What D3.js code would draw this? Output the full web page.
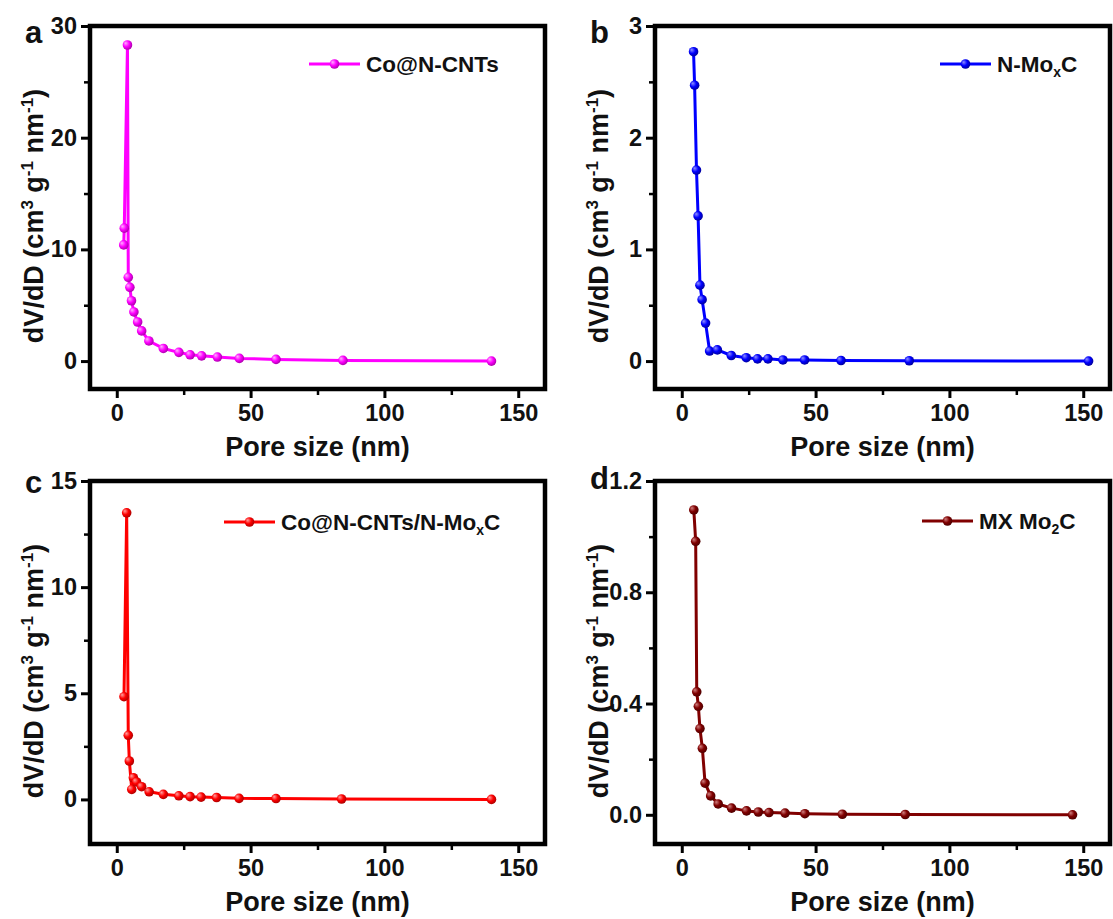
<!DOCTYPE html>
<meta http-equiv="content-type" content="text/html; charset=utf-8">
<style>
body { margin: 0; background: #fff; }
text { font-family: "Liberation Sans", Arial, sans-serif; font-weight: bold; }
</style>
<body>
<div id="chart"></div>
<script src="https://cdn.jsdelivr.net/npm/d3@7"></script>
<script>
// pore size distributions
var xTicks = [0, 50, 100, 150];
var xMinor = [25, 75, 125];

var poreA = [2.6, 2.8, 4.0, 4.3, 4.9, 5.5, 6.4, 7.8, 9.3, 12.0, 17.4, 23.2, 27.4, 31.7, 37.6, 45.8, 59.5, 84.5, 140];
var dvA   = [10.4, 11.9, 28.3, 7.5, 6.6, 5.4, 4.4, 3.5, 2.7, 1.8, 1.13, 0.78, 0.56, 0.47, 0.36, 0.24, 0.15, 0.06, 0.0];
var yTicksA = [0, 10, 20, 30];
var yMinorA = [5, 15, 25];

var poreB = [4.4, 4.8, 5.5, 6.1, 6.8, 7.6, 8.9, 10.4, 13.3, 18.5, 24.1, 28.3, 32.2, 37.8, 45.9, 59.5, 85, 152];
var dvB   = [2.77, 2.47, 1.71, 1.30, 0.68, 0.55, 0.34, 0.09, 0.10, 0.05, 0.03, 0.02, 0.02, 0.01, 0.01, 0.005, 0.003, 0.0];
var yTicksB = [0, 1, 2, 3];
var yMinorB = [0.5, 1.5, 2.5];

var poreC = [2.7, 3.7, 4.3, 4.7, 5.6, 6.2, 7.4, 9.3, 12.1, 17.4, 23.2, 27.4, 31.5, 37.3, 45.7, 59.5, 84, 140];
var dvC   = [4.84, 13.5, 3.02, 1.81, 0.47, 1.02, 0.82, 0.60, 0.36, 0.24, 0.17, 0.13, 0.11, 0.09, 0.05, 0.04, 0.02, 0.0];
var yTicksC = [0, 5, 10, 15];
var yMinorC = [2.5, 7.5, 12.5];

var poreD = [4.5, 5.2, 5.6, 6.2, 6.8, 7.7, 8.7, 10.8, 13.6, 18.6, 24.2, 28.6, 32.6, 38.6, 46, 60, 83.5, 146];
var dvD   = [1.096, 0.983, 0.442, 0.39, 0.31, 0.239, 0.114, 0.068, 0.039, 0.024, 0.014, 0.01, 0.008, 0.006, 0.004, 0.002, 0.001, 0.0];
var yTicksD = [0, 0.4, 0.8, 1.2];
var yMinorD = [0.2, 0.6, 1.0];

var W = 455, H = 363;

var panels = [
  { id: "a", left: 90, top: 26, color: "#ff00ff", hi: "#ffb0ff", lo: "#b000b0",
    pore: poreA, dv: dvA, ticks: yTicksA, minor: yMinorA, ydom: [-2.5, 30], fmt: d3.format("d"),
    name: ["Co@N-CNTs"], legX: 219, legY: 38, letterY: 17 },
  { id: "b", left: 655, top: 26, color: "#0000ff", hi: "#9090ff", lo: "#0000a0",
    pore: poreB, dv: dvB, ticks: yTicksB, minor: yMinorB, ydom: [-0.25, 3], fmt: d3.format("d"),
    name: ["N-Mo", "x", "C"], legX: 285, legY: 38, letterY: 17 },
  { id: "c", left: 90, top: 481, color: "#ff0000", hi: "#ffa0a0", lo: "#b00000",
    pore: poreC, dv: dvC, ticks: yTicksC, minor: yMinorC, ydom: [-2.1, 15], fmt: d3.format("d"),
    name: ["Co@N-CNTs/N-Mo", "x", "C"], legX: 134, legY: 41, letterY: 12 },
  { id: "d", left: 655, top: 481, color: "#800000", hi: "#d08080", lo: "#500000",
    pore: poreD, dv: dvD, ticks: yTicksD, minor: yMinorD, ydom: [-0.105, 1.2], fmt: d3.format(".1f"),
    name: ["MX Mo", "2", "C"], legX: 267, legY: 40, letterY: 8 }
];

var svg = d3.select("#chart").append("svg")
    .attr("width", 1113)
    .attr("height", 919);

svg.append("rect").attr("width", 1113).attr("height", 919).attr("fill", "#fff");

var defs = svg.append("defs");

panels.forEach(function(p) {
  var grad = defs.append("radialGradient")
      .attr("id", "ball-" + p.id)
      .attr("cx", "0.4").attr("cy", "0.4").attr("r", "0.6")
      .attr("fx", "0.3").attr("fy", "0.3");
  grad.append("stop").attr("offset", "0%").attr("stop-color", p.hi);
  grad.append("stop").attr("offset", "55%").attr("stop-color", p.color);
  grad.append("stop").attr("offset", "100%").attr("stop-color", p.lo);

  var g = svg.append("g").attr("transform", "translate(" + p.left + "," + p.top + ")");

  var x = d3.scaleLinear().domain([-10, 160]).range([0, W]);
  var y = d3.scaleLinear().domain(p.ydom).range([H, 0]);

  // minor ticks
  g.append("g")
      .attr("transform", "translate(0," + H + ")")
      .call(d3.axisBottom(x).tickValues(xMinor).tickSize(6).tickFormat(""))
      .call(function(a) { a.select(".domain").remove(); a.selectAll("line").attr("stroke-width", 2.5); });
  g.append("g")
      .call(d3.axisLeft(y).tickValues(p.minor).tickSize(6).tickFormat(""))
      .call(function(a) { a.select(".domain").remove(); a.selectAll("line").attr("stroke-width", 2.5); });

  // major ticks
  g.append("g")
      .attr("transform", "translate(0," + H + ")")
      .call(d3.axisBottom(x).tickValues(xTicks).tickSize(9).tickPadding(6))
      .call(function(a) {
        a.select(".domain").remove();
        a.selectAll("line").attr("stroke-width", 3);
        a.selectAll("text").attr("font-size", 23.5).attr("font-family", null).attr("fill", "#111");
      });
  g.append("g")
      .call(d3.axisLeft(y).tickValues(p.ticks).tickSize(9).tickPadding(4).tickFormat(p.fmt))
      .call(function(a) {
        a.select(".domain").remove();
        a.selectAll("line").attr("stroke-width", 3);
        a.selectAll("text").attr("font-size", 23.5).attr("font-family", null).attr("fill", "#111");
      });

  // frame
  g.append("rect")
      .attr("width", W).attr("height", H)
      .attr("fill", "none").attr("stroke", "#000").attr("stroke-width", 4.5);

  var pts = p.pore.map(function(v, i) { return [v, p.dv[i]]; });

  g.append("path")
      .datum(pts)
      .attr("fill", "none")
      .attr("stroke", p.color)
      .attr("stroke-width", 3)
      .attr("stroke-linejoin", "round")
      .attr("d", d3.line().x(function(d) { return x(d[0]); }).y(function(d) { return y(d[1]); }));

  g.selectAll(".pt")
    .data(pts)
    .enter().append("circle")
      .attr("class", "pt")
      .attr("cx", function(d) { return x(d[0]); })
      .attr("cy", function(d) { return y(d[1]); })
      .attr("r", 4.8)
      .attr("fill", "url(#ball-" + p.id + ")");

  // legend
  var leg = g.append("g").attr("transform", "translate(" + p.legX + "," + p.legY + ")");
  leg.append("line").attr("x1", 0).attr("x2", 51).attr("stroke", p.color).attr("stroke-width", 3);
  leg.append("circle").attr("cx", 25.5).attr("r", 4.8).attr("fill", "url(#ball-" + p.id + ")");
  var lt = leg.append("text").attr("x", 57).attr("dy", "0.36em").attr("font-size", 22.5).attr("fill", "#111");
  lt.append("tspan").text(p.name[0]);
  if (p.name.length > 1) {
    lt.append("tspan").attr("dy", 5).attr("font-size", 14).text(p.name[1]);
    lt.append("tspan").attr("dy", -5).text(p.name[2]);
  }

  // panel letter
  g.append("text")
      .attr("x", -65).attr("y", p.letterY)
      .attr("font-size", 31).attr("fill", "#111")
      .text(p.id);

  // axis titles
  g.append("text")
      .attr("x", W / 2).attr("y", 430)
      .attr("text-anchor", "middle")
      .attr("font-size", 27).attr("fill", "#111")
      .text("Pore size (nm)");

  var yt = g.append("text")
      .attr("transform", "translate(-47," + 190 + ") rotate(-90)")
      .attr("text-anchor", "middle")
      .attr("font-size", 27).attr("fill", "#111");
  yt.append("tspan").text("dV/dD (cm");
  yt.append("tspan").attr("dy", -10).attr("font-size", 17).text("3");
  yt.append("tspan").attr("dy", 10).text(" g");
  yt.append("tspan").attr("dy", -10).attr("font-size", 17).text("-1");
  yt.append("tspan").attr("dy", 10).text(" nm");
  yt.append("tspan").attr("dy", -10).attr("font-size", 17).text("-1");
  yt.append("tspan").attr("dy", 10).text(")");
});
</script>
</body>
</html>
